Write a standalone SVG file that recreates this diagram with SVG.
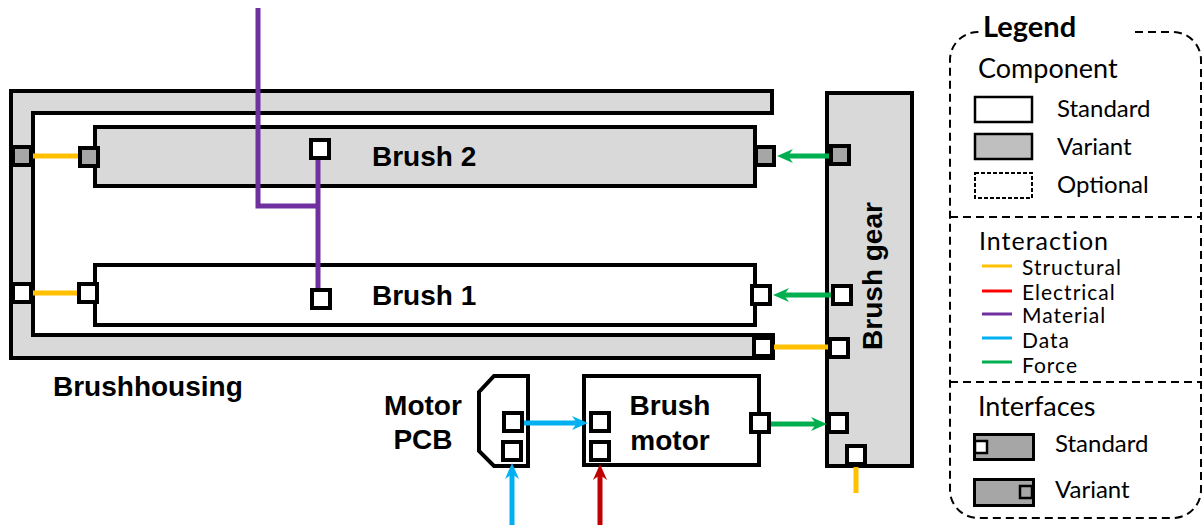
<svg xmlns="http://www.w3.org/2000/svg" width="1204" height="525" viewBox="0 0 1204 525">
<style>
.box{stroke:#000;stroke-width:4;stroke-linejoin:miter}
.grey{fill:#d9d9d9}
.white{fill:#fff}
.port{stroke:#000;stroke-width:4;fill:#fff}
.vport{stroke:#000;stroke-width:4;fill:#a6a6a6}
.lbl{font-family:"Liberation Sans",Arial,sans-serif;font-weight:bold;font-size:28px;fill:#000}
.lg{font-family:Lato,"Liberation Sans",sans-serif;fill:#000}
.it{font-size:21px;letter-spacing:1px}
.c{fill:none;stroke-width:5}
.y{stroke:#ffc000}.r{stroke:#c00000}.p{stroke:#7030a0}.b{stroke:#00b0f0}.g{stroke:#00b050}
.dash{fill:none;stroke:#000;stroke-width:2;stroke-dasharray:8 5}
</style>
<defs>
<marker id="ag" markerUnits="userSpaceOnUse" viewBox="0 0 16 14" markerWidth="16" markerHeight="14" refX="5" refY="7" orient="auto"><path d="M0,0 L16,7 L0,14 L5,7 Z" fill="#00b050"/></marker>
<marker id="ab" markerUnits="userSpaceOnUse" viewBox="0 0 16 14" markerWidth="16" markerHeight="14" refX="5" refY="7" orient="auto"><path d="M0,0 L16,7 L0,14 L5,7 Z" fill="#00b0f0"/></marker>
<marker id="ar" markerUnits="userSpaceOnUse" viewBox="0 0 16 14" markerWidth="16" markerHeight="14" refX="5" refY="7" orient="auto"><path d="M0,0 L16,7 L0,14 L5,7 Z" fill="#c00000"/></marker>
</defs>
<rect width="1204" height="525" fill="#fff"/>

<g id="brushhousing">
<polygon class="box grey" points="11,91 772,91 772,113 33,113 33,335 773,335 773,358 11,358"/>
<rect class="vport" x="13" y="147" width="18" height="18"/>
<rect class="port" x="13" y="284" width="18" height="18"/>
<rect class="port" x="754" y="338" width="18" height="18"/>
<text class="lbl" x="53" y="396">Brushhousing</text>
</g>

<g id="brush2">
<rect class="box grey" x="95" y="127" width="660" height="59"/>
<rect class="vport" x="80" y="148" width="18" height="18"/>
<rect class="port" x="311" y="140" width="18" height="18"/>
<rect class="vport" x="756" y="147" width="18" height="18"/>
<text class="lbl" x="372" y="166">Brush 2</text>
</g>

<g id="brush1">
<rect class="box white" x="95" y="265" width="660" height="60"/>
<rect class="port" x="79" y="284" width="18" height="18"/>
<rect class="port" x="312" y="290" width="18" height="18"/>
<rect class="port" x="752" y="286" width="18" height="18"/>
<text class="lbl" x="372" y="305">Brush 1</text>
</g>

<g id="brushgear">
<rect class="box grey" x="827" y="93" width="85" height="373"/>
<rect class="vport" x="831" y="146" width="18" height="18"/>
<rect class="port" x="833" y="286" width="18" height="18"/>
<rect class="port" x="830" y="339" width="18" height="18"/>
<rect class="port" x="829" y="414" width="18" height="18"/>
<rect class="port" x="847" y="446" width="18" height="18"/>
<text class="lbl" transform="translate(882,276) rotate(-90)" text-anchor="middle">Brush gear</text>
</g>

<g id="motorpcb">
<polygon class="box white" points="494,376 528,376 528,466 494,466 479,451 479,392"/>
<rect class="port" x="504" y="413" width="18" height="18"/>
<rect class="port" x="503" y="442" width="18" height="18"/>
<text class="lbl" x="423" y="415" text-anchor="middle">Motor</text>
<text class="lbl" x="423" y="449" text-anchor="middle">PCB</text>
</g>

<g id="brushmotor">
<rect class="box white" x="584" y="376" width="175" height="89"/>
<rect class="port" x="591" y="413" width="18" height="18"/>
<rect class="port" x="591" y="442" width="18" height="18"/>
<rect class="port" x="751" y="414" width="18" height="18"/>
<text class="lbl" x="670" y="415" text-anchor="middle">Brush</text>
<text class="lbl" x="670" y="450" text-anchor="middle">motor</text>
</g>

<g id="connectors">
<line class="c y" x1="33" y1="156" x2="78" y2="156"/>
<line class="c y" x1="33" y1="293" x2="77" y2="293"/>
<line class="c y" x1="774" y1="347" x2="828" y2="347"/>
<line class="c y" x1="856" y1="467" x2="856" y2="493"/>
<polyline class="c p" points="258,8 258,206 320,206"/>
<line class="c p" x1="318" y1="160" x2="318" y2="288"/>
<line class="c g" x1="829" y1="156" x2="788" y2="156" marker-end="url(#ag)"/>
<line class="c g" x1="831" y1="295" x2="784" y2="295" marker-end="url(#ag)"/>
<line class="c g" x1="771" y1="424" x2="816" y2="424" marker-end="url(#ag)"/>
<line class="c b" x1="524" y1="423" x2="577" y2="423" marker-end="url(#ab)"/>
<line class="c b" x1="512" y1="525" x2="512" y2="474" marker-end="url(#ab)"/>
<line class="c r" x1="600" y1="525" x2="600" y2="475" marker-end="url(#ar)"/>
</g>

<g id="legend">
<path class="dash" d="M1135,32 H1173 A28,28 0 0 1 1201,60 V490 A28,28 0 0 1 1173,518 H978 A28,28 0 0 1 950,490 V60 A28,28 0 0 1 978,32 H982"/>
<line class="dash" x1="950" y1="217" x2="1201" y2="217"/>
<line class="dash" x1="950" y1="382" x2="1201" y2="382"/>
<text class="lg" x="983" y="37" font-size="29" font-weight="bold">Legend</text>
<text class="lg" x="978" y="78" font-size="27">Component</text>
<rect x="975" y="97" width="57" height="25" fill="#fff" stroke="#000" stroke-width="2.5"/>
<rect x="975" y="134" width="57" height="25" fill="#bfbfbf" stroke="#000" stroke-width="2.5"/>
<rect x="975" y="173" width="57" height="25" fill="#fff" stroke="#000" stroke-width="2" stroke-dasharray="4 2"/>
<text class="lg" x="1057" y="117" font-size="24">Standard</text>
<text class="lg" x="1057" y="155" font-size="24">Variant</text>
<text class="lg" x="1057" y="193" font-size="24">Optional</text>
<text class="lg" x="979" y="250" font-size="25" letter-spacing="1">Interaction</text>
<line x1="982" y1="266" x2="1012" y2="266" stroke="#ffc000" stroke-width="3"/>
<line x1="982" y1="291" x2="1012" y2="291" stroke="#ff0000" stroke-width="3"/>
<line x1="982" y1="314" x2="1012" y2="314" stroke="#7030a0" stroke-width="3"/>
<line x1="982" y1="338" x2="1012" y2="338" stroke="#00b0f0" stroke-width="3"/>
<line x1="982" y1="362" x2="1012" y2="362" stroke="#00b050" stroke-width="3"/>
<text class="lg it" x="1022" y="275">Structural</text>
<text class="lg it" x="1022" y="300">Electrical</text>
<text class="lg it" x="1022" y="323">Material</text>
<text class="lg it" x="1022" y="348">Data</text>
<text class="lg it" x="1022" y="373">Force</text>
<text class="lg" x="978" y="416" font-size="27">Interfaces</text>
<rect x="974.5" y="434.5" width="59" height="25" fill="#a6a6a6" stroke="#000" stroke-width="3"/>
<rect x="975" y="441" width="12" height="12" fill="#fff" stroke="#000" stroke-width="2.5"/>
<rect x="974.5" y="479.5" width="59" height="26" fill="#a6a6a6" stroke="#000" stroke-width="3"/>
<rect x="1020" y="486" width="12" height="12" fill="#a6a6a6" stroke="#000" stroke-width="2.5"/>
<text class="lg" x="1055" y="452" font-size="24">Standard</text>
<text class="lg" x="1055" y="498" font-size="24">Variant</text>
</g>
</svg>
